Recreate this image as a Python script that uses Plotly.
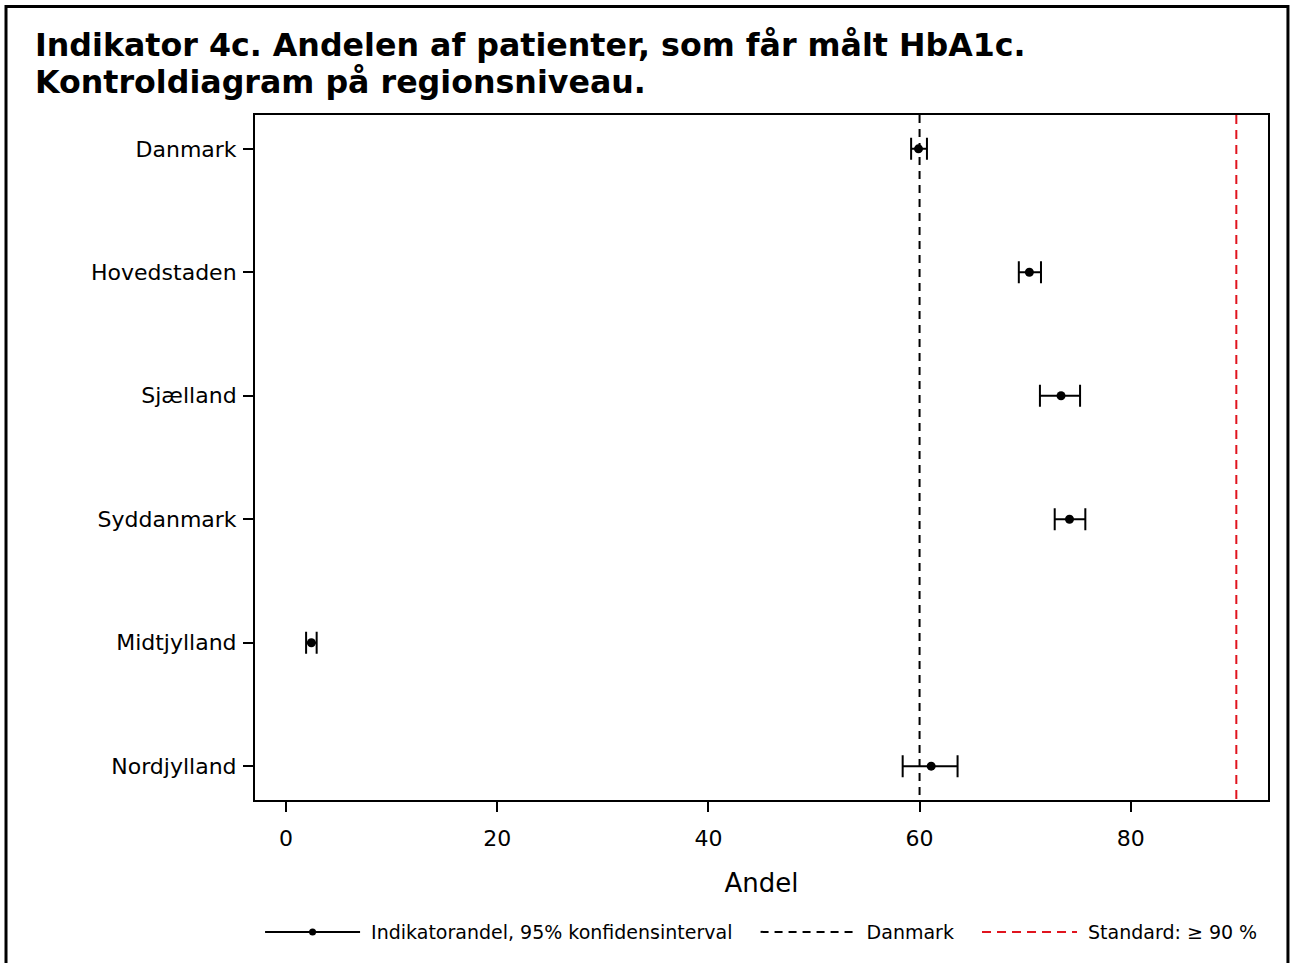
import plotly.graph_objects as go

regions = ["Danmark", "Hovedstaden", "Sjælland", "Syddanmark", "Midtjylland", "Nordjylland"]
andel = [59.9, 70.4, 73.4, 74.2, 2.4, 61.1]
ci_low = [59.2, 69.4, 71.4, 72.8, 1.9, 58.4]
ci_high = [60.7, 71.5, 75.2, 75.7, 2.9, 63.6]
danmark_value = 60.0
standard_value = 90.0
x_ticks = [0, 20, 40, 60, 80]

FONT = "DejaVu Sans"
ypos = list(range(len(regions)))
y_lo, y_hi = -0.274, len(regions) - 1 + 0.274

fig = go.Figure()

fig.add_trace(go.Scatter(
    x=andel, y=ypos, mode="markers",
    marker=dict(color="black", size=9),
    error_x=dict(type="data", symmetric=False,
                 array=[h - a for h, a in zip(ci_high, andel)],
                 arrayminus=[a - l for a, l in zip(andel, ci_low)],
                 color="black", thickness=2, width=11),
    showlegend=False, hoverinfo="x+y",
))

fig.add_trace(go.Scatter(
    x=[None], y=[None], mode="lines+markers",
    line=dict(color="black", width=2), marker=dict(color="black", size=7),
    name=" Indikatorandel, 95% konfidensinterval   ",
))
fig.add_trace(go.Scatter(
    x=[danmark_value, danmark_value], y=[y_lo, y_hi], mode="lines",
    line=dict(color="black", width=2, dash="8px,6px"),
    name=" Danmark   ",
))
fig.add_trace(go.Scatter(
    x=[standard_value, standard_value], y=[y_lo, y_hi], mode="lines",
    line=dict(color="#e0141e", width=2, dash="9px,6px"),
    name=" Standard: ≥ 90 %",
))

fig.update_layout(
    width=1292, height=963,
    margin=dict(l=255, r=24, t=115, b=160),
    paper_bgcolor="white", plot_bgcolor="white",
    font=dict(family=FONT, color="black"),
    showlegend=True,
    legend=dict(orientation="h", x=0.005, xanchor="left", y=-0.165, yanchor="top",
                font=dict(size=19, family=FONT), itemwidth=95,
                traceorder="normal", bgcolor="rgba(0,0,0,0)"),
    xaxis=dict(range=[-2.94, 93.0], tickvals=x_ticks, ticks="outside", ticklen=10,
               tickwidth=2, tickcolor="black", showgrid=False, zeroline=False,
               showline=True, linecolor="black", linewidth=2, mirror=True,
               tickfont=dict(size=22, family=FONT), ticklabelstandoff=8,
               title=dict(text="Andel", font=dict(size=26, family=FONT), standoff=23)),
    yaxis=dict(range=[y_hi, y_lo], tickvals=ypos, ticktext=regions, ticks="outside",
               ticklen=10, tickwidth=2, tickcolor="black", showgrid=False,
               zeroline=False, showline=True, linecolor="black", linewidth=2,
               mirror=True, tickfont=dict(size=22, family=FONT), ticklabelstandoff=2),
    shapes=[dict(type="rect", xref="paper", yref="paper",
                 x0=-0.2458, x1=1.0197, y0=-0.245, y1=1.1584,
                 line=dict(color="black", width=3), fillcolor="rgba(0,0,0,0)")],
    annotations=[
        dict(text="<b>Indikator 4c. Andelen af patienter, som får målt HbA1c.</b>",
             xref="paper", yref="paper", x=(33 - 255) / 1013, y=(803 - 45) / 688,
             xanchor="left", yanchor="middle", align="left", showarrow=False,
             font=dict(size=31.7, family=FONT, color="black")),
        dict(text="<b>Kontroldiagram på regionsniveau.</b>",
             xref="paper", yref="paper", x=(33 - 255) / 1013, y=(803 - 82) / 688,
             xanchor="left", yanchor="middle", align="left", showarrow=False,
             font=dict(size=31.7, family=FONT, color="black")),
    ],
)

fig.write_html("out.html", config={"displayModeBar": False},
               post_script="document.body.style.margin='0';")
